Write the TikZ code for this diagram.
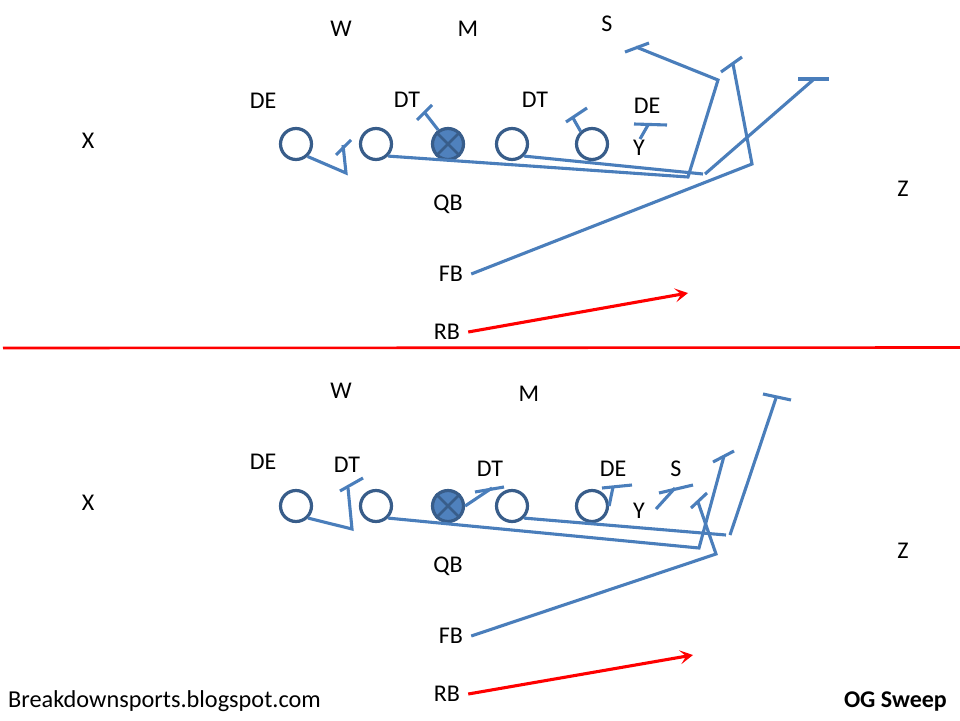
\documentclass[tikz,border=0pt]{standalone}
\usepackage{fontspec}
\setmainfont{Carlito}
\usetikzlibrary{arrows.meta}
\definecolor{routeblue}{HTML}{4A7EBB}
\definecolor{ringblue}{HTML}{385D8A}
\definecolor{fillblue}{HTML}{4F81BD}
\tikzset{
	route/.style={routeblue, line width=3.1pt, line join=miter},
	run/.style={red, line width=3.1pt, -{Stealth[length=13pt,width=14pt,inset=6pt]}},
	player/.style={circle, draw=ringblue, line width=3.2pt, fill=white, minimum size=31pt, inner sep=0pt},
	center/.style={player, fill=fillblue},
	tag/.style={font=\fontsize{24}{28}\selectfont, text=black, inner sep=8pt, yshift=-1pt}
}

\begin{document}
\begin{tikzpicture}[x=1pt, y=-1pt]
	\useasboundingbox (0,0) rectangle (960,720);

	% labels
	\foreach \nm/\x/\y/\txt in {wa/341/28/W, ma/468/28/M, sa/607/23/S, dea/263/100/DE, dtb/407/99/DT, dtc/535/99/DT,
		ded/647/105/DE, ya/639/147/Y, xa/88/140/X, za/903/188/Z, qa/448/203/QB, fa/451/273/FB, ra/447/331/RB,
		wb/341/390/W, mb/529/393/M, sb/676/468/S, def/263/461/DE, dtg/347/464/DT, dth/490/468/DT,
		dei/613/468/DE, yb/639/510/Y, xb/88/502/X, zb/903/550/Z, qb/448/565/QB, fb/451/635/FB, rb/447/693/RB}
	\node[tag] (\nm) at (\x,\y) {\txt};

	% line, top and bottom
	\foreach \nm/\y in {a/144, b/506} {
		\node[player] (lt\nm) at (296,\y) {};
		\node[player] (lg\nm) at (376,\y) {};
		\node[center] (c\nm) at (448,\y) {};
		\node[player] (rg\nm) at (512,\y) {};
		\node[player] (rt\nm) at (592,\y) {};
		\draw[ringblue, line width=2.6pt] (c\nm.45) -- (c\nm.-135) (c\nm.135) -- (c\nm.-45);
	}

	% break points and blocks, top
	\foreach \nm/\x/\y in {p1/346/173, p2/343/145, p3/336/155, p4/351/140,
		p5/425/113, p6/417/120, p7/432/105,
		p8/688/177, p9/718/80, p10/636/47, p11/625/52, p12/649/43,
		p13/703/174, p14/705/174, p15/813/80, p16/798/79, p17/829/79,
		p18/752/164, p19/733/64, p20/721/72, p21/742/57,
		p22/573/118, p23/566/122, p24/587/108,
		p25/648/125, p26/640/139, p27/634/124, p28/667/125, p29/688/293} 
	\coordinate (\nm) at (\x,\y);

	\draw[route] (lta.-47) -- (p1) -- (p2);
	\draw[route] (p3) -- (p4);
	\draw[route] (ca.125) -- (p5);
	\draw[route] (p6) -- (p7);
	\draw[route] (lga.-45) -- (p8) -- (p9) -- (p10);
	\draw[route] (p11) -- (p12);
	\draw[route] (rga.-45) -- (p13);
	\draw[route] (p14) -- (p15);
	\draw[route] (p16) -- (p17);
	\draw[route] (fa.east) -- (p18) -- (p19);
	\draw[route] (p20) -- (p21);
	\draw[route] (rta.132) -- (p22);
	\draw[route] (p23) -- (p24);
	\draw[route] (p26) -- (p25);
	\draw[route] (p27) -- (p28);
	\draw[run] (ra.east) -- (p29);

	% divider
	\coordinate (dl) at (3,348);
	\coordinate (dr) at (960,347.5);
	\draw[red, line width=2.6pt] (dl) -- (dr);

	% break points and blocks, bottom
	\foreach \nm/\x/\y in {q1/352/529, q2/348/488, q3/340/491, q4/363/478,
		q5/492/488, q6/475/492, q7/504/487,
		q8/699/548, q9/724/456, q10/713/462, q11/734/451,
		q12/726/535, q13/730/535, q14/776/398, q15/763/394, q16/791/400,
		q17/716/554, q18/698/502, q19/691/508, q20/707/493,
		q21/613/487, q22/602/488, q23/632/485,
		q24/656/509, q25/675/488, q26/659/493, q27/693/485, q28/693/655}
	\coordinate (\nm) at (\x,\y);

	\draw[route] (ltb.-45) -- (q1) -- (q2);
	\draw[route] (q3) -- (q4);
	\draw[route] (cb.0) -- (q5);
	\draw[route] (q6) -- (q7);
	\draw[route] (lgb.-45) -- (q8) -- (q9);
	\draw[route] (q10) -- (q11);
	\draw[route] (rgb.-45) -- (q12);
	\draw[route] (q13) -- (q14);
	\draw[route] (q15) -- (q16);
	\draw[route] (fb.east) -- (q17) -- (q18);
	\draw[route] (q19) -- (q20);
	\draw[route] (rtb.0) -- (q21);
	\draw[route] (q22) -- (q23);
	\draw[route] (q24) -- (q25);
	\draw[route] (q26) -- (q27);
	\draw[run] (rb.east) -- (q28);

	% footer
	\node[tag, anchor=west, inner sep=0pt, font=\fontsize{24.3}{28}\selectfont] (site) at (8,700) {Breakdownsports.blogspot.com};
	\node[tag, anchor=east, inner sep=0pt, font=\fontsize{24}{28}\selectfont\bfseries] (title) at (947,701) {OG Sweep};
\end{tikzpicture}
\end{document}
